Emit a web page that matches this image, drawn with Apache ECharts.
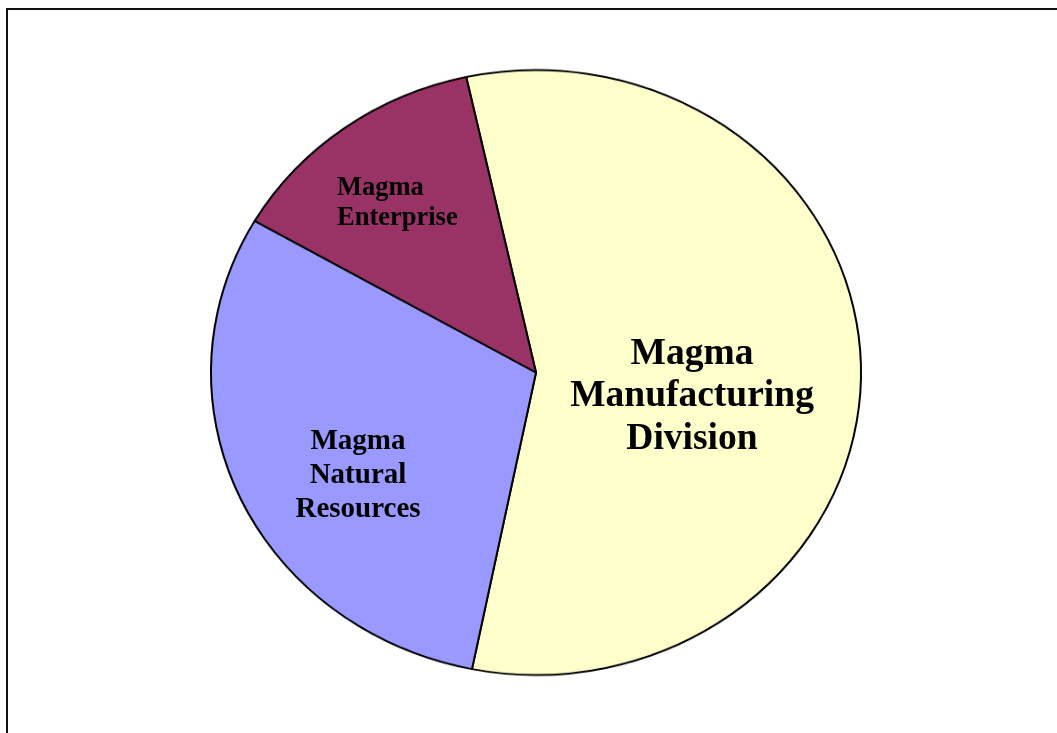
<!DOCTYPE html>
<html>
<head>
<meta charset="utf-8">
<script src="https://cdn.jsdelivr.net/npm/echarts@6/dist/echarts.min.js"></script>
<style>
  html, body { margin: 0; padding: 0; background: #fff; }
  #wrap { position: relative; width: 1057px; height: 733px; overflow: hidden; background: #fff; }
  #frame { position: absolute; left: 6px; top: 8px; width: 1200px; height: 900px;
           border-left: 2px solid #111; border-top: 2px solid #111; }
  #pie { position: absolute; left: 0; top: 0; width: 1057px; height: 733px;
         transform: scaleY(0.9308); transform-origin: 0 372.5px; }
  #labels { position: absolute; left: 0; top: 0; width: 1057px; height: 733px; }
</style>
</head>
<body>
<div id="wrap">
  <div id="frame"></div>
  <div id="pie"></div>
  <div id="labels"></div>
</div>
<script>
const categories = ['Magma\nManufacturing\nDivision', 'Magma\nNatural\nResources', 'Magma\nEnterprise'];
const values = [56.6, 30.2, 13.2];
const colors = ['#FFFFCC', '#9999FF', '#993366'];

// label styling / placement (presentation, not data)
const labelFont = [37.5, 29, 26.5];
const labelLine = [42.5, 34, 30];
const labelPos = [[692, 396.5, 'center'], [358, 476, 'center'], [337, 203, 'left']];

const pieData = categories.map((c, i) => ({ name: c, value: values[i], itemStyle: { color: colors[i] } }));

const pieChart = echarts.init(document.getElementById('pie'), null, { renderer: 'canvas' });
pieChart.setOption({
  animation: false,
  series: [{
    type: 'pie',
    center: [536, 372.5],
    radius: 325,
    startAngle: 102.4,
    clockwise: true,
    silent: true,
    label: { show: false },
    labelLine: { show: false },
    itemStyle: { borderColor: '#000', borderWidth: 2 },
    data: pieData
  }]
});

const labelChart = echarts.init(document.getElementById('labels'), null, { renderer: 'canvas' });
labelChart.setOption({
  animation: false,
  series: [{
    type: 'pie',
    center: [536, 372.5],
    radius: 325,
    startAngle: 102.4,
    clockwise: true,
    silent: true,
    itemStyle: { color: 'rgba(0,0,0,0)', borderWidth: 0 },
    label: {
      show: true,
      position: 'inside',
      fontFamily: 'Liberation Serif',
      fontWeight: 'bold',
      color: '#000'
    },
    labelLine: { show: false },
    labelLayout: function (params) {
      const p = labelPos[params.dataIndex];
      return { x: p[0], y: p[1], align: p[2], verticalAlign: 'middle' };
    },
    data: categories.map((c, i) => ({
      name: c,
      value: values[i],
      label: { fontSize: labelFont[i], lineHeight: labelLine[i], align: labelPos[i][2] }
    }))
  }]
});
</script>
</body>
</html>
